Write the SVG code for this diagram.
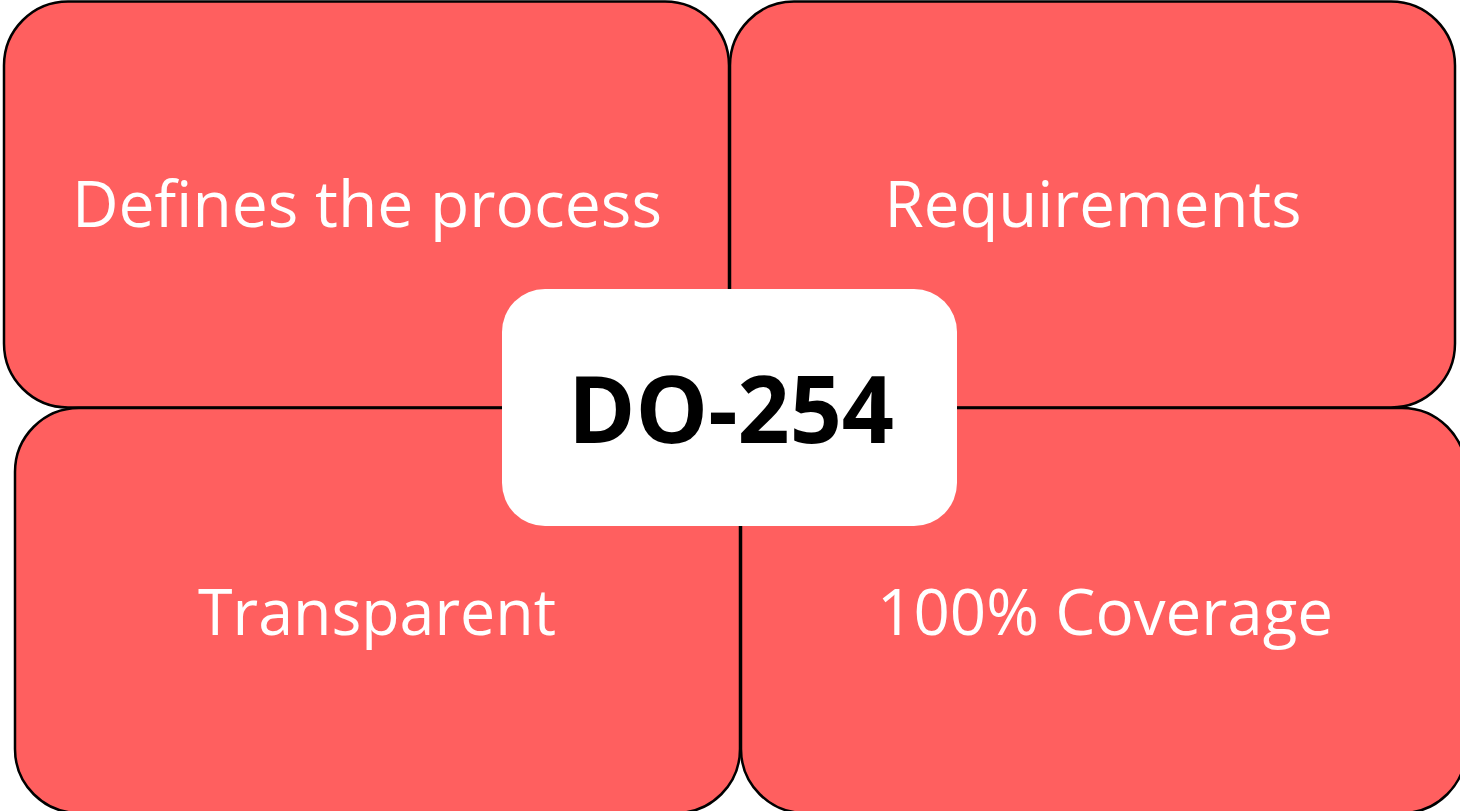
<svg xmlns="http://www.w3.org/2000/svg" width="1460" height="811" viewBox="0 0 1460 811">
  <style>
    .tile { fill: #FF5F5F; stroke: #000000; stroke-width: 2.5; }
    .hub { fill: #FFFFFF; }
    .label { font-family: "Open Sans", "Noto Sans", "Liberation Sans", sans-serif; font-size: 64px; fill: #FFFFFF; text-anchor: middle; }
    .title { font-family: "Open Sans", "Noto Sans", "Liberation Sans", sans-serif; font-size: 94px; font-weight: bold; fill: #000000; text-anchor: middle; }
  </style>
  <rect width="1460" height="811" fill="#FFFFFF"/>
  <g id="connectors"></g>
  <g id="node-process">
    <rect class="tile" x="4" y="1.5" width="725" height="406" rx="64" ry="64"/>
    <text class="label" x="367" y="227" textLength="590" lengthAdjust="spacingAndGlyphs">Defines the process</text>
  </g>
  <g id="node-requirements">
    <rect class="tile" x="730" y="1.5" width="725" height="406" rx="64" ry="64"/>
    <text class="label" x="1093" y="227" textLength="417" lengthAdjust="spacingAndGlyphs">Requirements</text>
  </g>
  <g id="node-transparent">
    <rect class="tile" x="15" y="408" width="725" height="405" rx="64" ry="64"/>
    <text class="label" x="377" y="635" textLength="358" lengthAdjust="spacingAndGlyphs">Transparent</text>
  </g>
  <g id="node-coverage">
    <rect class="tile" x="741" y="408" width="725" height="405" rx="64" ry="64"/>
    <text class="label" x="1105" y="635" textLength="456" lengthAdjust="spacingAndGlyphs">100% Coverage</text>
  </g>
  <g id="node-do254">
    <rect class="hub" x="502" y="289" width="455" height="237" rx="43" ry="43"/>
    <text class="title" x="731" y="443" textLength="326" lengthAdjust="spacingAndGlyphs">DO-254</text>
  </g>
</svg>
